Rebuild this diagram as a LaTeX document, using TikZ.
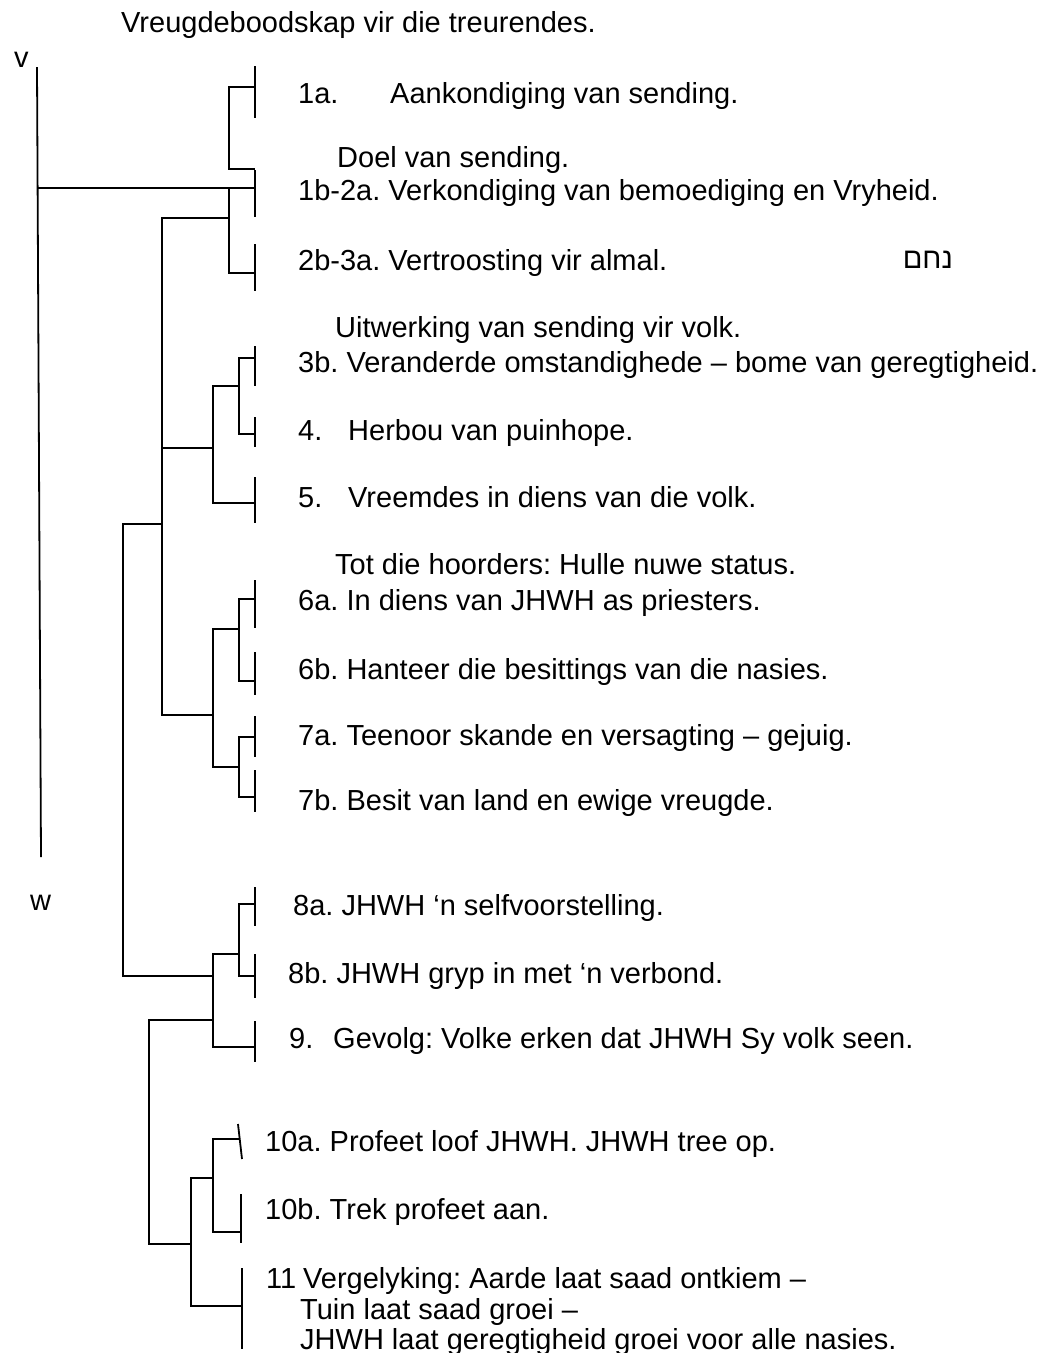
\documentclass[tikz,border=0pt]{standalone}
\usepackage{fontspec}
\setmainfont{Liberation Sans}
\newfontfamily\hebfont[Script=Hebrew]{Liberation Sans}
\TeXXeTstate=1
\frenchspacing
\usepackage{tikz}
\usetikzlibrary{positioning}
\tikzset{
  stem/.style={draw, line width=1.8pt},
  tick/.style={draw, line width=1.8pt},
  item/.style={anchor=base west, inner sep=0pt},
  ritem/.style={anchor=base east, inner sep=0pt}
}

\begin{document}
\begin{tikzpicture}[x=1pt, y=-1pt, font=\fontsize{29}{33}\selectfont]
  \useasboundingbox (0,0) rectangle (1048,1353);

  % title and the time line v -- w
  \node[item] (title) at (121,32) {Vreugdeboodskap vir die treurendes.};
  \node[item] (vlab) at (14,67) {v};
  \node[item] (wlab) at (30,910) {w};
  \coordinate (vtop) at (37,67);
  \coordinate (vbot) at (41,857);
  \coordinate (vhub) at (37.5,188);
  \coordinate (hub) at (255,188);
  \draw[stem] (vtop) -- (vbot);
  \draw[stem] (vhub) -- (hub);

  % leaf ticks: name / x top / x bottom / top / bottom / join x / join y
  \foreach \n/\xa/\xb/\a/\b/\jx/\jy in {1a/255/255/66/118/255/87, 1b/255/255/170/217/255/169,
      2b/255/255/244/291/255/273, 3b/255/255/346/386/255/358, 4/255/255/417/447/255/434,
      5/255/255/477/523/255/503, 6a/255/255/580/628/255/599, 6b/255/255/652/695/255/681,
      7a/255/255/716/757/255/737, 7b/255/255/770/812/255/797, 8a/255/255/887/926/255/904,
      8b/255/255/954/998/255/976, 9/255/255/1021/1062/255/1047, 10a/238/242/1124/1159/240/1139,
      10b/241/241/1194/1243/241/1232, 11/242/242/1268/1349/242/1306} {
    \draw[tick] (\xa,\a) -- (\xb,\b);
    \coordinate (l\n) at (\jx,\jy);
  }

  % knots where a group hangs from its spine
  \coordinate (kA) at (229,218);
  \coordinate (kB) at (213,448);
  \coordinate (kB1) at (239,386);
  \coordinate (kC) at (213,715);
  \coordinate (kC1) at (239,629);
  \coordinate (kC2) at (239,767);
  \coordinate (kD) at (213,976);
  \coordinate (kD1) at (239,954);
  \coordinate (kE) at (213,1020);
  \coordinate (kF) at (191,1244);
  \coordinate (kF1) at (213,1178);

  % 1a -- 2b-3a
  \draw[stem] (l1a) -- (229,87) -- (229,169) -- (l1b);
  \draw[stem] (229,188) -- (229,273) -- (l2b);
  \draw[stem] (kA) -- (162,218) -- (162,715) -- (kC);
  \draw[stem] (162,448) -- (kB);
  % 3b -- 5
  \draw[stem] (kB1) -- (213,386) -- (213,503) -- (l5);
  \draw[stem] (l3b) -- (239,358) -- (239,434) -- (l4);
  % 6a -- 7b
  \draw[stem] (kC1) -- (213,629) -- (213,767) -- (kC2);
  \draw[stem] (l6a) -- (239,599) -- (239,681) -- (l6b);
  \draw[stem] (l7a) -- (239,737) -- (239,797) -- (l7b);
  % 8a -- 9
  \draw[stem] (162,524) -- (123,524) -- (123,976) -- (kD);
  \draw[stem] (kD1) -- (213,954) -- (213,1047) -- (l9);
  \draw[stem] (l8a) -- (239,904) -- (239,976) -- (l8b);
  % 10a -- 11
  \draw[stem] (kE) -- (149,1020) -- (149,1244) -- (kF);
  \draw[stem] (kF1) -- (191,1178) -- (191,1306) -- (l11);
  \draw[stem] (l10a) -- (213,1139) -- (213,1232) -- (l10b);

  % labels
  \node[item] (t1a) at (298,103) {\makebox[92pt][l]{1a.}Aankondiging van sending.};
  \node[item] (s1) at (337,167) {Doel van sending.};
  \node[item] (t1b) at (298,200) {1b-2a. Verkondiging van bemoediging en Vryheid.};
  \node[item] (t2b) at (298,270) {2b-3a. Vertroosting vir almal.};
  \node[ritem] (heb) at (953,268) {\hebfont\beginR נחם\endR};
  \node[item] (s2) at (335,337) {Uitwerking van sending vir volk.};
  \node[item] (t3b) at (298,372) {3b. Veranderde omstandighede – bome van geregtigheid.};
  \node[item] (t4) at (298,440) {\makebox[50pt][l]{4.}Herbou van puinhope.};
  \node[item] (t5) at (298,507) {\makebox[50pt][l]{5.}Vreemdes in diens van die volk.};
  \node[item] (s3) at (335,574) {Tot die hoorders: Hulle nuwe status.};
  \node[item] (t6a) at (298,610) {6a. In diens van JHWH as priesters.};
  \node[item] (t6b) at (298,679) {6b. Hanteer die besittings van die nasies.};
  \node[item] (t7a) at (298,745) {7a. Teenoor skande en versagting – gejuig.};
  \node[item] (t7b) at (298,810) {7b. Besit van land en ewige vreugde.};
  \node[item] (t8a) at (293,915) {8a. JHWH ‘n selfvoorstelling.};
  \node[item] (t8b) at (288,983) {8b. JHWH gryp in met ‘n verbond.};
  \node[item] (t9) at (289,1048) {\makebox[44pt][l]{9.}Gevolg: Volke erken dat JHWH Sy volk seen.};
  \node[item] (t10a) at (265,1151) {10a. Profeet loof JHWH. JHWH tree op.};
  \node[item] (t10b) at (265,1219) {10b. Trek profeet aan.};
  \node[item] (t11) at (266,1288) {\makebox[37pt][l]{11}Vergelyking: Aarde laat saad ontkiem –};
  \node[item] (t11b) at (300,1319) {Tuin laat saad groei –};
  \node[item] (t11c) at (300,1349) {JHWH laat geregtigheid groei voor alle nasies.};
\end{tikzpicture}
\end{document}
